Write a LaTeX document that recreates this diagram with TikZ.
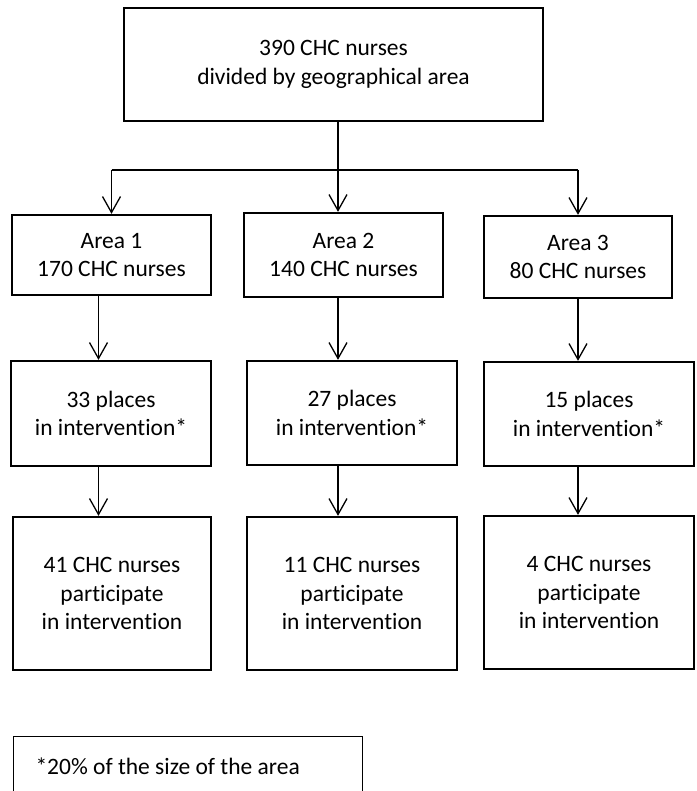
\documentclass[tikz,border=0pt]{standalone}
\usepackage{fontspec}
\setmainfont{Carlito}[Ligatures=NoCommon]
\usetikzlibrary{arrows.meta}
\tikzset{
  box/.style={draw=black, line width=2.3pt, inner sep=0pt, align=center,
    font=\fontsize{23.5}{28.5}\selectfont},
  conn/.style={draw=black, line width=1.3pt},
  arr/.style={conn, -{Straight Barb[length=16pt,width=18pt]}},
  footbox/.style={draw=black, line width=1pt, inner ysep=0pt, inner xsep=22pt,
    text width=305pt, align=flush left, minimum height=59pt,
    font=\fontsize{23.5}{28.5}\selectfont}
}
\begin{document}
\begin{tikzpicture}[x=1pt,y=-1pt]
\useasboundingbox (0,0) rectangle (696,791);
\clip (0,0) rectangle (696,791);
% column arrow positions
\coordinate (c1) at (98.5,0);
\coordinate (c2) at (338,0);
\coordinate (c3) at (578,0);
\coordinate (j) at (338,170);
% top
\node[box, minimum width=419pt, minimum height=113pt] (top) at (333.5,64.5)
  {390 CHC nurses\\divided by geographical area};
% areas
\node[box, minimum width=199pt, minimum height=80pt] (a1) at (111.5,255) {Area 1\\170 CHC nurses};
\node[box, minimum width=199pt, minimum height=84pt] (a2) at (343.5,255) {Area 2\\140 CHC nurses};
\node[box, minimum width=188pt, minimum height=82pt] (a3) at (578,257) {Area 3\\80 CHC nurses};
% places
\node[box, minimum width=200pt, minimum height=105pt] (p1) at (111,413.5) {33 places\\in intervention*};
\node[box, minimum width=210pt, minimum height=104pt] (p2) at (352,413) {27 places\\in intervention*};
\node[box, minimum width=210pt, minimum height=104pt] (p3) at (589,414) {15 places\\in intervention*};
% final
\node[box, minimum width=198pt, minimum height=153pt] (f1) at (112,593.5) {41 CHC nurses\\participate\\in intervention};
\node[box, minimum width=210pt, minimum height=153pt] (f2) at (352,593.5) {11 CHC nurses\\participate\\in intervention};
\node[box, minimum width=210pt, minimum height=153pt] (f3) at (589,592.5) {4 CHC nurses\\participate\\in intervention};
% footnote
\node[footbox, anchor=north west] (foot) at (13,736) {*20\% of the size of the area};
% connectors
\draw[arr] (top.south -| c2) -- (a2.north -| c2);
\draw[conn] (a1.north |- j) -- (a3.north |- j);
\draw[arr] (a1.north |- j) -- (a1.north);
\draw[arr] (a3.north |- j) -- (a3.north);
\draw[arr] (a1.south -| c1) -- (p1.north -| c1);
\draw[arr] (a2.south -| c2) -- (p2.north -| c2);
\draw[arr] (a3.south -| c3) -- (p3.north -| c3);
\draw[arr] (p1.south -| c1) -- (f1.north -| c1);
\draw[arr] (p2.south -| c2) -- (f2.north -| c2);
\draw[arr] (p3.south -| c3) -- (f3.north -| c3);
\end{tikzpicture}
\end{document}
